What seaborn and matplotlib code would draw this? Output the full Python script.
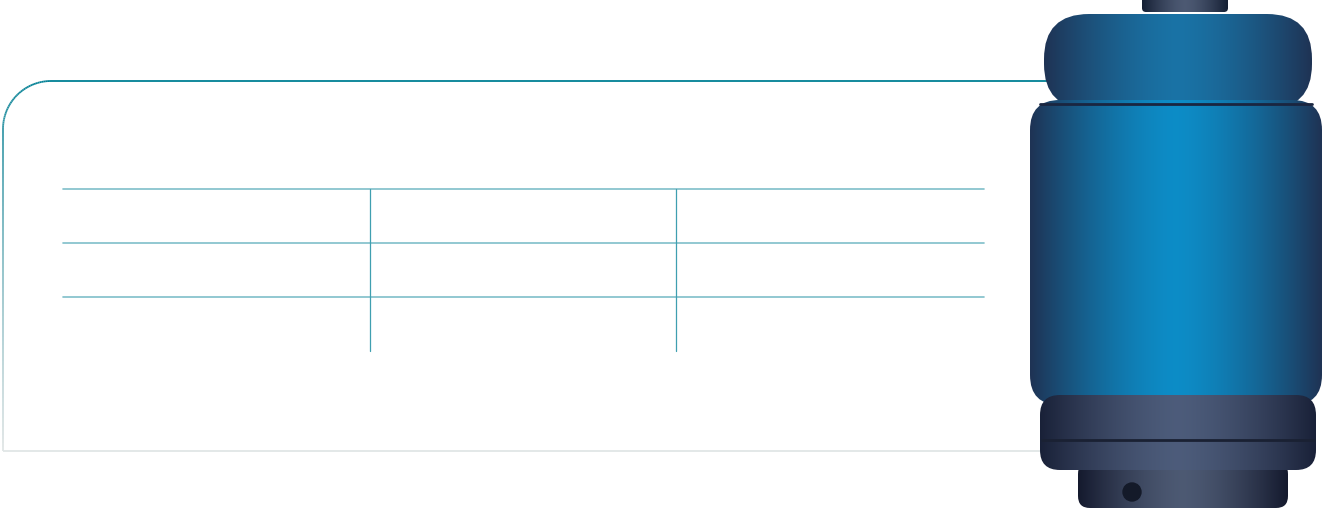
import numpy as np
import matplotlib
matplotlib.use("Agg")
import matplotlib.pyplot as plt
import seaborn as sns
from matplotlib.patches import FancyBboxPatch, Ellipse, Circle
from matplotlib.collections import LineCollection

sns.set_theme(style="white")

# Table structure (empty decorative table)
row_lines = [189, 243, 297]
col_lines = [370, 676]
table_x = [63, 984]
table_bottom = 351

fig = plt.figure(figsize=(13.31, 5.17), dpi=100)
ax = fig.add_axes([0, 0, 1, 1])
ax.set_xlim(0, 1331)
ax.set_ylim(517, 0)
ax.axis("off")

# Rounded frame with gradient stroke
x0, y0, x1, y1, r = 3, 81, 1060, 451, 48
pts = []
t = np.linspace(np.pi, 1.5 * np.pi, 40)
# bottom-left straight going up, then arc, then top
pts += [(x0, y1)]
pts += [(x0 + r + r * np.cos(a), y0 + r + r * np.sin(a)) for a in t]
pts += [(x1, y0)]
pts += [(x1, y1)]
pts += [(x0, y1)]
pts = np.array(pts)
segs, cols = [], []
top = np.array([0.0, 0.5, 0.58]); bot = np.array([0.88, 0.9, 0.9])
for i in range(len(pts) - 1):
    a, b = pts[i], pts[i + 1]
    n = max(2, int(np.hypot(*(b - a)) / 4))
    xs = np.linspace(a[0], b[0], n); ys = np.linspace(a[1], b[1], n)
    for j in range(n - 1):
        segs.append([(xs[j], ys[j]), (xs[j + 1], ys[j + 1])])
        f = np.clip((ys[j] - y0) / (y1 - y0), 0, 1) ** 0.7
        cols.append(top * (1 - f) + bot * f)
ax.add_collection(LineCollection(segs, colors=cols, linewidths=1.3, zorder=2))

# Table lines
lc = "#7fbfca"
for y in row_lines:
    ax.plot(table_x, [y, y], color=lc, lw=1.2, zorder=3)
for x in col_lines:
    ax.plot([x, x], [row_lines[0], table_bottom], color="#3f9fb0", lw=0.9, zorder=3)

# Cylinder illustration
def grad_patch(patch, c_edge, c_mid, z):
    ax.add_patch(patch)
    patch.set_facecolor("none"); patch.set_edgecolor("none")
    xs = np.linspace(-1, 1, 200)
    w = 1 - np.abs(xs) ** 1.5
    img = np.array([c_edge]) * (1 - w[:, None]) + np.array([c_mid]) * w[:, None]
    img = img[None, :, :].repeat(2, axis=0)
    bb = patch.get_extents().transformed(ax.transData.inverted())
    im = ax.imshow(img, extent=[bb.x0, bb.x1, bb.y1, bb.y0], aspect="auto", zorder=z)
    im.set_clip_path(patch)

dark = (0.12, 0.2, 0.33); mid = (0.05, 0.55, 0.78)
grad_patch(FancyBboxPatch((1142, -10), 86, 22, boxstyle="round,pad=0,rounding_size=4"),
           (0.08, 0.12, 0.2), (0.3, 0.35, 0.45), 4)
grad_patch(FancyBboxPatch((1044, 14), 268, 95, boxstyle="round,pad=0,rounding_size=45"),
           dark, (0.1, 0.45, 0.65), 5)
grad_patch(FancyBboxPatch((1030, 100), 292, 305, boxstyle="round,pad=0,rounding_size=30"),
           dark, mid, 6)
grad_patch(FancyBboxPatch((1040, 395), 276, 75, boxstyle="round,pad=0,rounding_size=20"),
           (0.1, 0.13, 0.22), (0.3, 0.36, 0.48), 7)
grad_patch(FancyBboxPatch((1078, 462), 210, 46, boxstyle="round,pad=0,rounding_size=12"),
           (0.08, 0.1, 0.18), (0.3, 0.35, 0.45), 6.5)
ax.plot([1040, 1312], [104, 104], color=(0.1, 0.15, 0.25), lw=2, zorder=8)
ax.plot([1042, 1314], [440, 440], color=(0.1, 0.13, 0.2), lw=2, zorder=8)
ax.add_patch(Circle((1132, 492), 9, color=(0.08, 0.1, 0.16), zorder=8))

fig.savefig("out.png", dpi=100, facecolor="white")
